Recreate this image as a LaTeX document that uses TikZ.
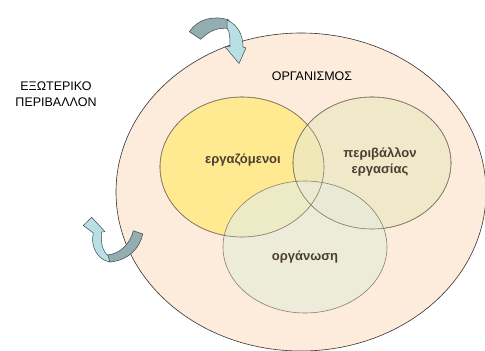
\documentclass[tikz,border=0pt]{standalone}
\usepackage{fontspec}
\setmainfont{Liberation Sans}
\begin{document}
\begin{tikzpicture}[x=1pt,y=-1pt,
  inner/.style={draw=innerline, line width=0.6pt, fill opacity=0.75},
  lbl/.style={text=txtbrown, font=\fontsize{13}{15.5}\selectfont\bfseries, align=center},
  outlbl/.style={text=black, font=\fontsize{12.5}{16.5}\selectfont, align=center},
  arrdark/.style={fill=tealdark, draw=arrline, line width=0.5pt, line join=round},
  arrlight/.style={fill=teallight, draw=arrline, line width=0.5pt, line join=round}]
\definecolor{peach}{HTML}{FDEBDC}
\definecolor{yel}{HTML}{FFE991}
\definecolor{grn}{HTML}{EBE9C5}
\definecolor{org}{HTML}{E8EBD9}
\definecolor{innerline}{HTML}{8A7D6C}
\definecolor{txtbrown}{HTML}{4A3F30}
\definecolor{tealdark}{HTML}{93ADB0}
\definecolor{teallight}{HTML}{B8DFE4}
\definecolor{arrline}{HTML}{3C4A4C}
\useasboundingbox (0,0) rectangle (485,351);
\begin{scope}
\clip (0,0) rectangle (485,351);
\path[fill=peach, draw=black!80, line width=0.6pt] (301,192) ellipse [x radius=185, y radius=159];
\end{scope}
\node[draw=none] (outer) at (301,192) {};
% inner ellipses
\path[inner, fill=yel, fill opacity=1] (242,167) ellipse [x radius=82, y radius=70];
\path[inner, fill=grn] (372,163) ellipse [x radius=79, y radius=66];
\path[inner, fill=org] (305,247) ellipse [x radius=82, y radius=66];
\path[draw=innerline, line width=0.6pt] (242,167) ellipse [x radius=82, y radius=70];
\path[draw=innerline, line width=0.6pt] (372,163) ellipse [x radius=79, y radius=66];
% labels
\node[lbl] (ergaz) at (243,160) {εργαζόμενοι};
\node[lbl] (periv) at (380,162) {περιβάλλον\\εργασίας};
\node[lbl] (organ) at (305,257) {οργάνωση};
\node[outlbl] (organismos) at (312,76) {ΟΡΓΑΝΙΣΜΟΣ};
\node[outlbl] (exot) at (56,94) {ΕΞΩΤΕΡΙΚΟ\\ΠΕΡΙΒΑΛΛΟΝ};
% top curved arrow
\path[arrdark] (189.3,31.7) .. controls (198,19) and (213,15) .. (229,20)
  -- (229,28.5) .. controls (218,27) and (209,31) .. (200.7,39.3) -- cycle;
\path[arrlight] (227,20) .. controls (238,25) and (243,35) .. (243,47)
  -- (246,48) -- (239,63.5) -- (225,46.7) -- (230,46.7)
  .. controls (230,38) and (230,32) .. (227,28) -- cycle;
% bottom-left curved arrow
\path[arrdark] (142.7,234) .. controls (140,248) and (128,261) .. (109,262)
  -- (107,255) .. controls (120,254) and (130,244) .. (133.3,230.7) -- cycle;
\path[arrlight] (110,262) .. controls (98,260) and (90,247) .. (93.3,233)
  -- (83.3,225.5) -- (91.7,217.3) -- (105,231.7) -- (101.7,232)
  .. controls (100,242) and (103,252) .. (108,255.5) -- cycle;
\end{tikzpicture}
\end{document}
